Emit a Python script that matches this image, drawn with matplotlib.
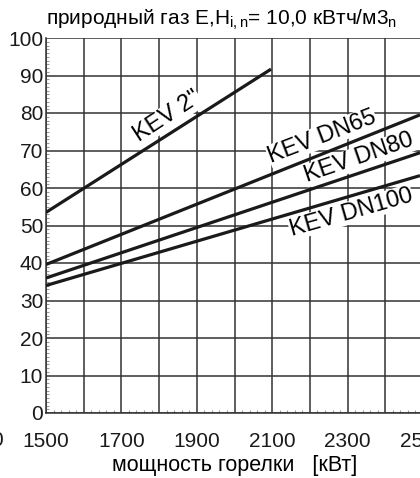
import matplotlib
matplotlib.use("Agg")
import matplotlib.pyplot as plt
import numpy as np

plt.rcParams['font.family'] = ['Liberation Sans', 'DejaVu Sans']
plt.rcParams['mathtext.fontset'] = 'custom'
plt.rcParams['mathtext.rm'] = 'Liberation Sans'
plt.rcParams['mathtext.it'] = 'Liberation Sans'

# data: burner power [kW] -> pressure value
series_names = ['KEV 2"', 'KEV DN65', 'KEV DN80', 'KEV DN100']
x_kev2 = [1500, 2097]
y_kev2 = [53.5, 91.7]
x_dn65 = [1500, 2492]
y_dn65 = [39.6, 79.5]
x_dn80 = [1500, 2492]
y_dn80 = [36.0, 69.4]
x_dn100 = [1500, 2492]
y_dn100 = [34.0, 63.3]

x_ticks = [1500, 1600, 1700, 1800, 1900, 2000, 2100, 2200, 2300, 2400, 2500]
x_tick_labels = ['1500', '', '1700', '', '1900', '', '2100', '', '2300', '', '2500']
y_ticks = [0, 10, 20, 30, 40, 50, 60, 70, 80, 90, 100]

title = 'природный газ E,H$_{\\mathregular{i,n}}$= 10,0 кВтч/м3$_{\\mathregular{n}}$'
xlabel = 'мощность горелки   [кВт]'

W, H = 420, 478
fig = plt.figure(figsize=(W / 100, H / 100), dpi=100)
ax = fig.add_axes([46 / W, (H - 413) / H, 377 / W, 375 / H])

ax.set_xlim(1500, 2500)
ax.set_ylim(0, 100)

for x, y in [(x_kev2, y_kev2), (x_dn65, y_dn65), (x_dn80, y_dn80), (x_dn100, y_dn100)]:
    ax.plot(x, y, color='#1a1a1a', lw=2.3, solid_capstyle='butt', zorder=3)

ax.set_xticks(x_ticks)
ax.set_xticklabels(x_tick_labels)
ax.set_yticks(y_ticks)
ax.set_xticks(np.arange(1500, 2501, 20), minor=True)
ax.set_yticks(np.arange(0, 101, 1), minor=True)
ax.grid(True, which='major', color='#333333', lw=1.1, zorder=1)
ax.tick_params(which='major', length=0, labelsize=15, colors='#1a1a1a')
ax.tick_params(axis='x', which='major', pad=14)
ax.tick_params(axis='y', which='major', pad=2)
ax.tick_params(which='minor', direction='in', length=2.5, width=0.8, color='#999999')
for s in ['top', 'right']:
    ax.spines[s].set_visible(False)
for s in ['left', 'bottom']:
    ax.spines[s].set_color('#333333')
    ax.spines[s].set_linewidth(1.1)

bb = dict(facecolor='white', edgecolor='none', pad=0.3)
ax.text(1822, 79, series_names[0], rotation=33, fontsize=17, ha='center', va='center', bbox=bb, zorder=4)
ax.text(2232, 73.7, series_names[1], rotation=21, fontsize=17, ha='center', va='center', bbox=bb, zorder=4)
ax.text(2330, 68, series_names[2], rotation=19, fontsize=17, ha='center', va='center', bbox=bb, zorder=4)
ax.text(2309, 53.5, series_names[3], rotation=16, fontsize=17, ha='center', va='center', bbox=bb, zorder=4)

fig.text(222 / W, 1 - 20 / H, title, fontsize=15, ha='center', va='center')
fig.text(235 / W, 1 - 466 / H, xlabel, fontsize=15.5, ha='center', va='center')
fig.text(4 / W, 1 - 440 / H, '1300', fontsize=15, ha='right', va='center', color='#1a1a1a')

fig.savefig('out.png', dpi=100)
